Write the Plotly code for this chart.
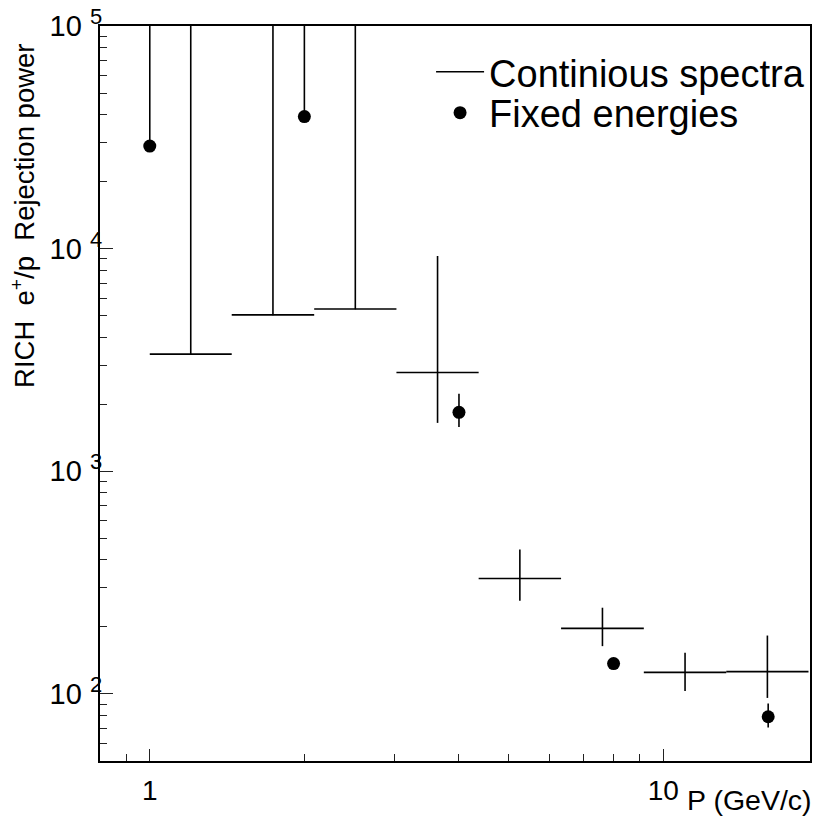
import math
import plotly.graph_objects as go

# Continuous-spectrum measurement: log-spaced momentum bins (GeV/c)
bin_edges = [1.0, 1.444, 2.090, 3.022, 4.369, 6.322, 9.162, 13.26, 19.17]
cont_values = [3360, 5040, 5360, 2780, 330, 197, 125, 126]
cont_upper = [2.0e5, 2.0e5, 2.0e5, 9270, 446, 244, 153, 183]
cont_lower = [3360, 5040, 5360, 1650, 262, 164, 103, 96]

# Fixed-energy beam points
fixed_p = [1, 2, 4, 8, 16]
fixed_values = [28900, 39200, 1840, 137, 79]
fixed_upper = [2.0e5, 2.0e5, 2230, 141, 90.6]
fixed_lower = [28900, 39200, 1580, 133, 70.7]

# Axis decorations
y_major = [1e2, 1e3, 1e4, 1e5]
y_exponents = ["2", "3", "4", "5"]
x_major = [1, 10]
x_major_text = ["1", "10"]

FONT = "Liberation Sans, Arial, Helvetica, sans-serif"

y_major_text = [
    "10 <sup><span style='font-size:22px'>%s</span></sup>" % e for e in y_exponents
]

# bin centres (geometric, log axis) and half-widths
cont_x = [math.sqrt(a * b) for a, b in zip(bin_edges[:-1], bin_edges[1:])]
cont_xplus = [b - c for b, c in zip(bin_edges[1:], cont_x)]
cont_xminus = [c - a for a, c in zip(bin_edges[:-1], cont_x)]
cont_yplus = [u - v for u, v in zip(cont_upper, cont_values)]
cont_yminus = [v - l for v, l in zip(cont_values, cont_lower)]

fix_yplus = [u - v for u, v in zip(fixed_upper, fixed_values)]
fix_yminus = [v - l for v, l in zip(fixed_values, fixed_lower)]

y_minor = [m * 10 ** d for d in range(1, 5) for m in range(2, 10) if 50 <= m * 10 ** d <= 1e5]
x_minor = [0.9] + list(range(2, 10))

fig = go.Figure()

fig.add_trace(go.Scatter(
    x=cont_x, y=cont_values, mode="markers",
    marker=dict(size=1, color="black"),
    error_x=dict(type="data", symmetric=False, array=cont_xplus, arrayminus=cont_xminus,
                 color="black", thickness=1.6, width=0),
    error_y=dict(type="data", symmetric=False, array=cont_yplus, arrayminus=cont_yminus,
                 color="black", thickness=1.6, width=0),
    showlegend=False, hoverinfo="skip",
))

fig.add_trace(go.Scatter(
    x=[None], y=[None], mode="lines",
    line=dict(color="black", width=1.6),
    name="Continious spectra", legend="legend",
))

fig.add_trace(go.Scatter(
    x=fixed_p, y=fixed_values, mode="markers",
    marker=dict(size=13, color="black", symbol="circle"),
    error_y=dict(type="data", symmetric=False, array=fix_yplus, arrayminus=fix_yminus,
                 color="black", thickness=1.6, width=0),
    name="Fixed energies", legend="legend2",
))

fig.update_xaxes(
    type="log",
    range=[math.log10(0.8), math.log10(19.3)],
    tickvals=x_major, ticktext=x_major_text,
    ticks="inside", ticklen=12, tickwidth=1.3, tickcolor="#222",
    ticklabelstandoff=3,
    minor=dict(tickvals=x_minor, ticks="inside", ticklen=7, tickwidth=1.3, tickcolor="#222"),
    showline=True, linecolor="black", linewidth=2, mirror=True,
    showgrid=False, zeroline=False,
    tickfont=dict(family=FONT, size=28, color="black"),
)
fig.update_yaxes(
    type="log",
    range=[math.log10(50), 5],
    tickvals=y_major, ticktext=y_major_text,
    ticks="inside", ticklen=13, tickwidth=1.3, tickcolor="#222",
    ticklabelstandoff=-10,
    minor=dict(tickvals=y_minor, ticks="inside", ticklen=7, tickwidth=1.3, tickcolor="#222"),
    showline=True, linecolor="black", linewidth=2, mirror=True,
    showgrid=False, zeroline=False,
    tickfont=dict(family=FONT, size=29, color="black"),
)

fig.add_annotation(
    text="RICH  e<sup>+</sup>/p  Rejection power",
    xref="paper", yref="paper", x=-0.108, y=0.742,
    xanchor="center", yanchor="middle", textangle=-90, showarrow=False,
    font=dict(family=FONT, size=27.5, color="black"),
)
fig.add_annotation(
    text="P (GeV/c)",
    xref="paper", yref="paper", x=1.006, y=-0.053,
    xanchor="right", yanchor="middle", showarrow=False,
    font=dict(family=FONT, size=28.5, color="black"),
)

legend_style = dict(
    xanchor="left", yanchor="middle",
    bgcolor="rgba(0,0,0,0)", borderwidth=0,
    font=dict(family=FONT, size=38, color="black"),
    itemwidth=48,
)

fig.update_layout(
    width=815, height=830,
    margin=dict(l=100, r=3, t=26, b=69),
    paper_bgcolor="white", plot_bgcolor="white",
    legend=dict(x=0.4663, y=0.9374, **legend_style),
    legend2=dict(x=0.4663, y=0.8817, **legend_style),
)

fig.write_html("out.html")
